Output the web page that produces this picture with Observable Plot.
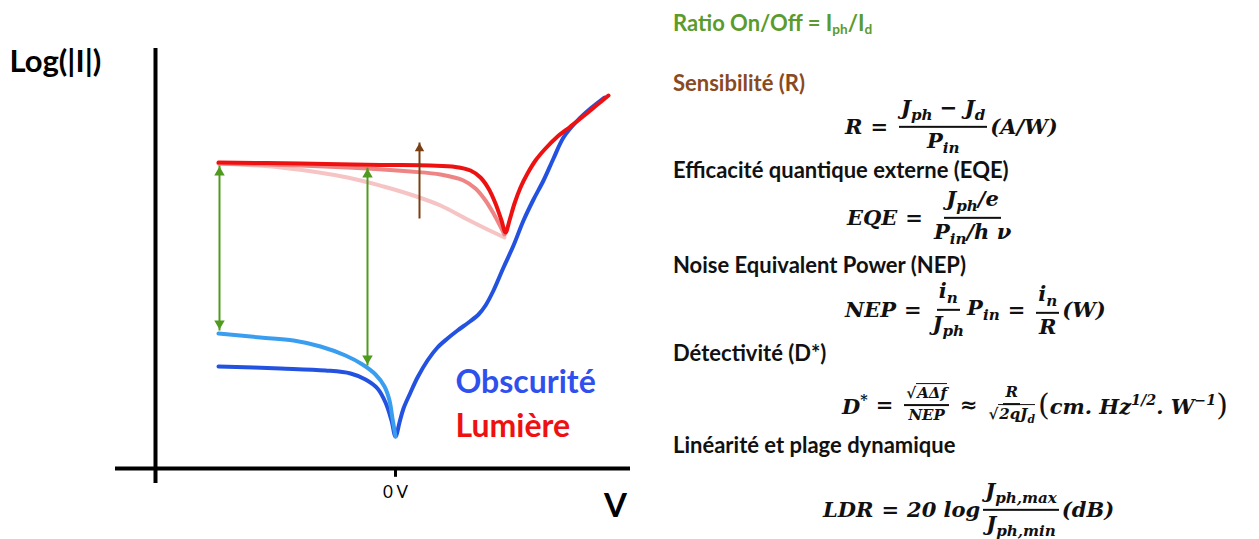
<!DOCTYPE html>
<html><head><meta charset="utf-8">
<script src="https://cdn.jsdelivr.net/npm/d3@7"></script>
<script src="https://cdn.jsdelivr.net/npm/@observablehq/plot@0.6"></script>
<style>
body{margin:0;background:#fff;}
#wrap{position:relative;width:1259px;height:539px;overflow:hidden;background:#fff;}
#chart{position:absolute;left:0;top:0;}
.lbl{position:absolute;font-family:Lato,"Open Sans",sans-serif;font-weight:bold;font-size:22px;color:#111;white-space:nowrap;line-height:1;}
.lbl sub{font-size:0.62em;vertical-align:-0.25em;}
.eq{position:absolute;display:flex;align-items:center;font-family:"DejaVu Serif",serif;font-style:italic;font-weight:bold;font-size:21px;color:#111;white-space:nowrap;transform:translateY(-50%);line-height:1.05;}
.eq sub{font-size:0.72em;vertical-align:-0.35em;}
.eq sup{font-size:0.68em;vertical-align:0.6em;}
.fr{display:inline-flex;flex-direction:column;align-items:center;margin:0 3px;}
.fr .n{border-bottom:2px solid #111;padding:0 2px 2px;}
.fr .d{padding-top:2px;}
.sm{font-size:15px;}
.rad{border-top:1.5px solid #111;padding-left:1px;}
.op{margin:0 8px;font-style:normal;}
.big{font-size:30px;font-style:normal;font-weight:normal;}
</style>
</head><body>
<div id="wrap">
  <div id="chart"></div>
  <div class="lbl" style="left:673px;top:12px;color:#5b9b2b">Ratio On/Off = I<sub>ph</sub>/I<sub>d</sub></div>
  <div class="lbl" style="left:673px;top:72px;color:#8a4a1f">Sensibilité (R)</div>
  <div class="eq" style="left:845px;top:127px"><span>R</span><span class="op">=</span><span class="fr"><span class="n">J<sub>ph</sub> − J<sub>d</sub></span><span class="d">P<sub>in</sub></span></span><span>(A/W)</span></div>
  <div class="lbl" style="left:673px;top:159px">Efficacité quantique externe (EQE)</div>
  <div class="eq" style="left:847px;top:218px"><span>EQE</span><span class="op">=</span><span class="fr"><span class="n">J<sub>ph</sub>/e</span><span class="d">P<sub>in</sub>/h ν</span></span></div>
  <div class="lbl" style="left:673px;top:254px">Noise Equivalent Power (NEP)</div>
  <div class="eq" style="left:845px;top:310px"><span>NEP</span><span class="op">=</span><span class="fr"><span class="n">i<sub>n</sub></span><span class="d">J<sub>ph</sub></span></span><span>P<sub>in</sub></span><span class="op">=</span><span class="fr"><span class="n">i<sub>n</sub></span><span class="d">R</span></span><span>(W)</span></div>
  <div class="lbl" style="left:673px;top:342px">Détectivité (D*)</div>
  <div class="eq" style="left:842px;top:405px"><span>D<sup>*</sup></span><span class="op">=</span><span class="fr sm"><span class="n">√<span class="rad">AΔf</span></span><span class="d">NEP</span></span><span class="op">≈</span><span class="fr sm"><span class="n">R</span><span class="d">√<span class="rad">2qJ<sub>d</sub></span></span></span><span class="big">(</span><span>cm. Hz<sup>1/2</sup>. W<sup>−1</sup></span><span class="big">)</span></div>
  <div class="lbl" style="left:673px;top:434px">Linéarité et plage dynamique</div>
  <div class="eq" style="left:823px;top:510px"><span>LDR</span><span class="op">=</span><span>20 log</span><span class="fr"><span class="n">J<sub>ph,max</sub></span><span class="d">J<sub>ph,min</sub></span></span><span>(dB)</span></div>
</div>
<script>
// Curves: [voltage (a.u.), log10|I| (a.u.)]
const lumiereForte = [[-1.77,-4.35],[-0.95,-4.375],[-0.15,-4.41],[0.35,-4.425],[0.60,-4.46],[0.75,-4.55],[0.85,-4.725],[0.93,-5.0],[1.00,-5.375],[1.06,-5.8],[1.10,-6.1],[1.14,-5.8],[1.19,-5.375],[1.25,-4.975],[1.32,-4.625],[1.40,-4.3],[1.50,-4.0],[1.61,-3.725],[1.75,-3.45],[1.90,-3.15],[2.02,-2.9],[2.13,-2.675]];
const lumiereMoyenne = [[-1.77,-4.375],[-0.95,-4.425],[-0.28,-4.5],[0.15,-4.575],[0.45,-4.65],[0.68,-4.8],[0.80,-5.0],[0.90,-5.3],[0.98,-5.625],[1.05,-5.95],[1.09,-6.15]];
const lumiereFaible = [[-1.77,-4.375],[-1.15,-4.475],[-0.48,-4.725],[-0.12,-4.95],[0.18,-5.175],[0.45,-5.425],[0.70,-5.75],[0.90,-6.0],[1.09,-6.225]];
const obscurite = [[-1.77,-9.45],[-1.15,-9.5],[-0.70,-9.55],[-0.45,-9.625],[-0.30,-9.775],[-0.18,-10.0],[-0.10,-10.35],[-0.04,-10.8],[0.0,-11.2],[0.04,-10.85],[0.08,-10.5],[0.15,-10.1],[0.22,-9.725],[0.32,-9.3],[0.42,-8.975],[0.52,-8.75],[0.62,-8.55],[0.73,-8.35],[0.83,-8.15],[0.90,-7.925],[0.98,-7.55],[1.08,-6.975],[1.18,-6.425],[1.28,-5.8],[1.38,-5.275],[1.48,-4.8],[1.58,-4.25],[1.68,-3.725],[1.82,-3.3],[1.95,-3.0],[2.09,-2.725]];
const obscuriteBis = [[-1.77,-8.625],[-1.35,-8.725],[-1.02,-8.8],[-0.75,-8.95],[-0.50,-9.175],[-0.33,-9.4],[-0.20,-9.65],[-0.11,-9.95],[-0.06,-10.3],[-0.03,-10.75],[0.0,-11.2]];
// On/Off ratio arrows: voltage, light current, dark current
const ratioArrows = [{v:-1.76, on:-4.425, off:-8.55},{v:-0.28, on:-4.475, off:-9.425}];
// Sensitivity arrow (increasing light intensity)
const sensArrow = [{v:0.24, from:-5.75, to:-3.85}];
// Axes
const axisV = -2.4, axisLog = -12;
const tickLabels = [{v:0, text:"0 V"}];

const green = "#4f9a1f", brown = "#7b3f14";
const font = "Lato, 'Open Sans', sans-serif";

const chart = Plot.plot({
  width: 660, height: 539, margin: 0,
  x: {domain: [-3.95, 2.65], axis: null},
  y: {domain: [-13.775, -0.3], axis: null},
  style: {background: "transparent"},
  marks: [
    Plot.ruleX([axisV], {y1: -1.5, y2: -12.375, stroke: "#000", strokeWidth: 4}),
    Plot.ruleY([axisLog], {x1: -2.8, x2: 2.35, stroke: "#000", strokeWidth: 4}),
    Plot.ruleX(tickLabels, {x: "v", y1: axisLog, y2: -12.22, stroke: "#000", strokeWidth: 3}),
    Plot.text(tickLabels, {x: "v", y: -12.6, text: "text", fontSize: 17, fontFamily: font, fill: "#000"}),
    Plot.text(["Log(|I|)"], {x: -3.86, y: -1.85, textAnchor: "start", fontSize: 31, fontWeight: "bold", fontFamily: font, fill: "#000"}),
    Plot.text(["V"], {x: 2.2, y: -12.95, fontSize: 33, fontWeight: "bold", fontFamily: font, fill: "#000"}),
    Plot.line(lumiereFaible, {x: d => d[0], y: d => d[1], stroke: "#f6c4c4", strokeWidth: 4, curve: "catmull-rom"}),
    Plot.line(lumiereMoyenne, {x: d => d[0], y: d => d[1], stroke: "#ef8484", strokeWidth: 4, curve: "catmull-rom"}),
    Plot.line(obscurite, {x: d => d[0], y: d => d[1], stroke: "#2352e0", strokeWidth: 4, curve: "catmull-rom"}),
    Plot.line(obscuriteBis, {x: d => d[0], y: d => d[1], stroke: "#3a9ef0", strokeWidth: 4, curve: "catmull-rom"}),
    Plot.line(lumiereForte, {x: d => d[0], y: d => d[1], stroke: "#ee1111", strokeWidth: 4, curve: "catmull-rom"}),
    Plot.link(ratioArrows, {x1: "v", x2: "v", y1: "on", y2: "off", stroke: green, strokeWidth: 2}),
    Plot.dot(ratioArrows, {x: "v", y: "on", symbol: "triangle2", r: 5, fill: green, stroke: "none", dy: 7}),
    Plot.dot(ratioArrows, {x: "v", y: "off", symbol: "triangle2", r: 5, fill: green, stroke: "none", rotate: 180, dy: -7}),
    Plot.link(sensArrow, {x1: "v", x2: "v", y1: "from", y2: "to", stroke: brown, strokeWidth: 2}),
    Plot.dot(sensArrow, {x: "v", y: "to", symbol: "triangle2", r: 4.5, fill: brown, stroke: "none", dy: 6}),
    Plot.text(["Obscurité"], {x: 0.6, y: -9.85, textAnchor: "start", fontSize: 32, fontWeight: "bold", fontFamily: font, fill: "#3050ee"}),
    Plot.text(["Lumière"], {x: 0.6, y: -10.95, textAnchor: "start", fontSize: 32, fontWeight: "bold", fontFamily: font, fill: "#ee1111"})
  ]
});
document.getElementById("chart").appendChild(chart);
</script>
</body></html>
